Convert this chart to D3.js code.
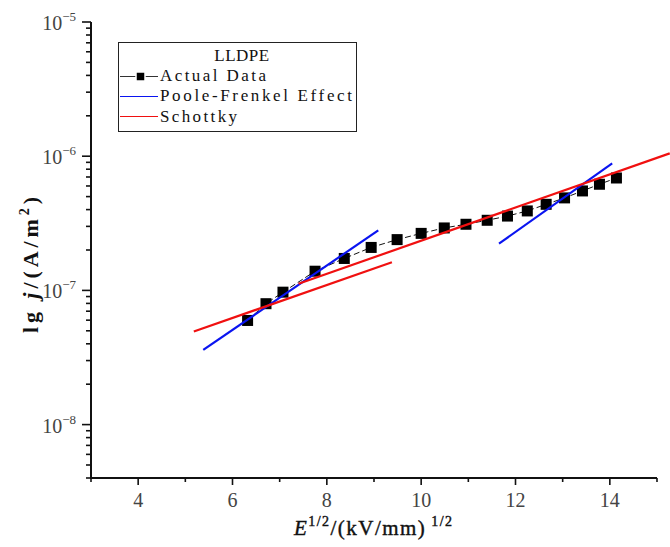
<!DOCTYPE html>
<html>
<head>
<meta charset="utf-8">
<script src="https://cdn.jsdelivr.net/npm/d3@7.9.0/dist/d3.min.js"></script>
<style>
  body { margin: 0; background: #fff; }
  svg { display: block; }
  .tick-label { font-family: "Liberation Serif", serif; font-size: 20px; fill: #444; }
  .legend text { font-family: "Liberation Serif", serif; font-size: 17px; fill: #111; }
</style>
</head>
<body>
<svg width="670" height="547"></svg>
<script>
// Actual data: E^(1/2) and current density j
const eField = [6.32, 6.71, 7.07, 7.75, 8.37, 8.94, 9.49, 10.0, 10.49, 10.95, 11.40, 11.83, 12.25, 12.65, 13.04, 13.42, 13.78, 14.14];
const current = [5.97e-8, 7.96e-8, 9.70e-8, 1.39e-7, 1.73e-7, 2.09e-7, 2.39e-7, 2.66e-7, 2.92e-7, 3.11e-7, 3.33e-7, 3.58e-7, 3.91e-7, 4.38e-7, 4.89e-7, 5.51e-7, 6.18e-7, 6.88e-7];

// fit segments [x, j]
const pfLow = [[5.38, 3.6e-8], [9.09, 2.8e-7]];
const pfHigh = [[11.65, 2.23e-7], [14.05, 8.83e-7]];
const schLow = [[5.18, 4.94e-8], [9.38, 1.62e-7]];
const schHigh = [[7.4, 1.12e-7], [15.27, 1.05e-6]];

const xMajor = [4, 6, 8, 10, 12, 14];
const xMinor = [3, 5, 7, 9, 11, 13, 15];
const yExponents = [-8, -7, -6, -5];

const svg = d3.select('svg');

const x = d3.scaleLinear().domain([3, 15]).range([91, 657]);
const y = d3.scaleLog().domain([4e-9, 1e-5]).range([478, 22]);

// y minor ticks (2..9 per decade)
let yMinor = [];
[1e-9, 1e-8, 1e-7, 1e-6].forEach(base => {
  for (let k = 2; k <= 9; k++) {
    let v = base * k;
    if (v >= 4e-9 && v < 1e-5) yMinor.push(v);
  }
});

// axes
const axes = svg.append('g').attr('stroke', '#111');
axes.append('line').attr('x1', x(3)).attr('x2', x(15)).attr('y1', y(4e-9)).attr('y2', y(4e-9)).attr('stroke-width', 2);
axes.append('line').attr('x1', x(3)).attr('x2', x(3)).attr('y1', y(4e-9) + 1).attr('y2', y(1e-5)).attr('stroke-width', 2);

xMajor.forEach(v => {
  axes.append('line').attr('x1', x(v)).attr('x2', x(v)).attr('y1', 478).attr('y2', 485).attr('stroke-width', 1.6);
  svg.append('text').attr('class', 'tick-label').attr('x', x(v)).attr('y', 507)
    .attr('text-anchor', 'middle').text(v);
});
xMinor.forEach(v => {
  axes.append('line').attr('x1', x(v)).attr('x2', x(v)).attr('y1', 478).attr('y2', 482).attr('stroke-width', 1.6);
});

yExponents.forEach(e => {
  let v = Math.pow(10, e);
  axes.append('line').attr('x1', 82).attr('x2', 91).attr('y1', y(v)).attr('y2', y(v)).attr('stroke-width', 1.6);
  let t = svg.append('text').attr('class', 'tick-label').attr('x', 76).attr('y', y(v) + 8)
    .attr('text-anchor', 'end');
  t.append('tspan').text('10');
  t.append('tspan').attr('dy', -9).attr('font-size', 13).text('\u2212' + Math.abs(e));
});
yMinor.forEach(v => {
  axes.append('line').attr('x1', 86).attr('x2', 91).attr('y1', y(v)).attr('y2', y(v)).attr('stroke-width', 1.6);
});

// axis titles
const xt = svg.append('text').attr('x', 373).attr('y', 535).attr('text-anchor', 'middle')
  .attr('textLength', 158).attr('lengthAdjust', 'spacing')
  .attr('font-family', 'Liberation Serif, serif').attr('font-size', 21).attr('fill', '#111')
  .attr('stroke', '#111').attr('stroke-width', 0.4);
xt.append('tspan').attr('font-style', 'italic').text('E');
xt.append('tspan').attr('dy', -9).attr('font-size', 14).text('1/2');
xt.append('tspan').attr('dy', 9).text('/(kV/mm)');
xt.append('tspan').attr('dy', -9).attr('font-size', 14).text(' 1/2');

const yt = svg.append('text').attr('transform', 'translate(38,265) rotate(-90)').attr('text-anchor', 'middle')
  .attr('textLength', 136).attr('lengthAdjust', 'spacing')
  .attr('font-family', 'Liberation Serif, serif').attr('font-size', 22).attr('font-weight', 'bold').attr('fill', '#111');
yt.append('tspan').text('lg ');
yt.append('tspan').attr('font-style', 'italic').text('j');
yt.append('tspan').text('/(A/m');
yt.append('tspan').attr('dy', -9).attr('font-size', 14).text('2');
yt.append('tspan').attr('dy', 9).text(')');

// data
const pts = eField.map((e, i) => [e, current[i]]);
const line = d3.line().x(d => x(d[0])).y(d => y(d[1]));

svg.append('path').attr('d', line(pts)).attr('fill', 'none')
  .attr('stroke', '#111').attr('stroke-width', 1).attr('stroke-dasharray', '6,3');
svg.selectAll('rect.pt').data(pts).join('rect').attr('class', 'pt')
  .attr('x', d => x(d[0]) - 5.5).attr('y', d => y(d[1]) - 5.5)
  .attr('width', 11).attr('height', 11).attr('fill', '#000');

[pfLow, pfHigh].forEach(seg => {
  svg.append('path').attr('d', line(seg)).attr('stroke', '#0a14f0').attr('stroke-width', 2.2).attr('fill', 'none');
});
[schLow, schHigh].forEach(seg => {
  svg.append('path').attr('d', line(seg)).attr('stroke', '#f01010').attr('stroke-width', 2.2).attr('fill', 'none');
});

// legend
const lg = svg.append('g').attr('class', 'legend');
lg.append('rect').attr('x', 118.5).attr('y', 42.5).attr('width', 238).attr('height', 89)
  .attr('fill', '#fff').attr('stroke', '#222').attr('stroke-width', 1);
lg.append('text').attr('x', 242).attr('y', 61).attr('text-anchor', 'middle')
  .attr('letter-spacing', 0.5).text('LLDPE');
lg.append('line').attr('x1', 120).attr('x2', 158).attr('y1', 76.5).attr('y2', 76.5).attr('stroke', '#333').attr('stroke-width', 1);
lg.append('rect').attr('x', 136).attr('y', 72).attr('width', 9).attr('height', 9).attr('fill', '#000')
  .attr('stroke', '#fff').attr('stroke-width', 1.5);
lg.append('text').attr('x', 160).attr('y', 81).attr('textLength', 106).attr('lengthAdjust', 'spacing').text('Actual Data');
lg.append('line').attr('x1', 120).attr('x2', 158).attr('y1', 96.5).attr('y2', 96.5).attr('stroke', '#0a14f0').attr('stroke-width', 1);
lg.append('text').attr('x', 160).attr('y', 101).attr('textLength', 192).attr('lengthAdjust', 'spacing').text('Poole-Frenkel Effect');
lg.append('line').attr('x1', 120).attr('x2', 158).attr('y1', 116.5).attr('y2', 116.5).attr('stroke', '#f01010').attr('stroke-width', 1);
lg.append('text').attr('x', 160).attr('y', 122).attr('textLength', 77).attr('lengthAdjust', 'spacing').text('Schottky');
</script>
</body>
</html>
